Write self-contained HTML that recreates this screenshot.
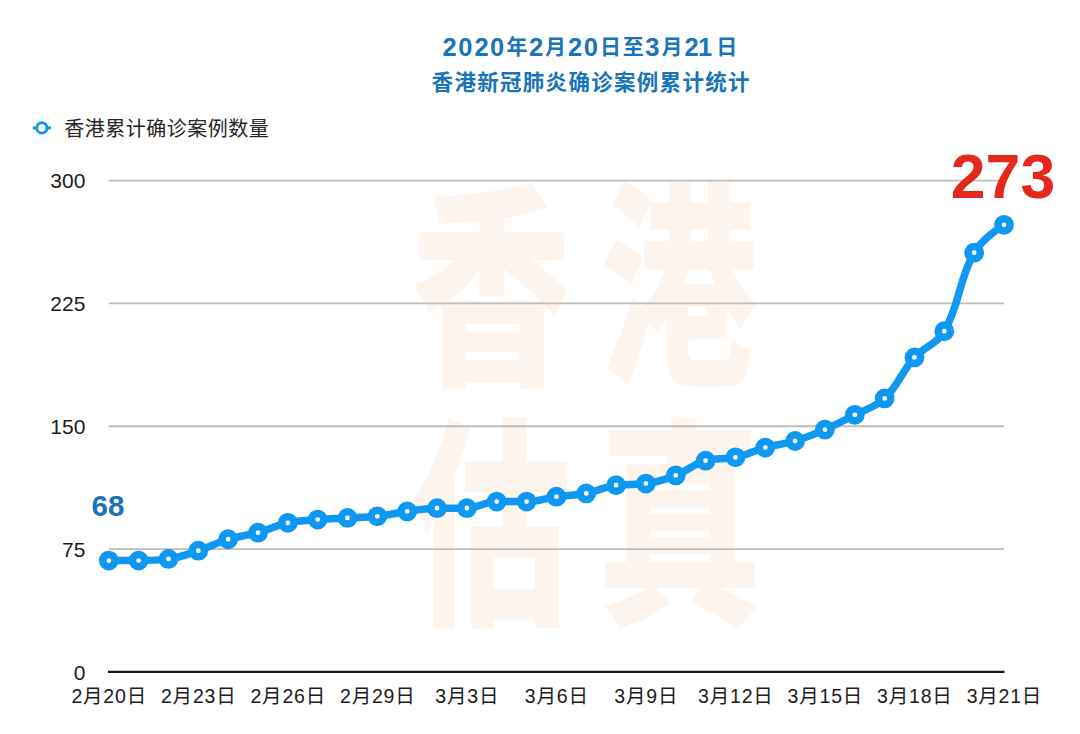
<!DOCTYPE html>
<html><head><meta charset="utf-8">
<style>
html,body{margin:0;padding:0;background:#fff;}
body{width:1080px;height:734px;overflow:hidden;position:relative;}
svg{position:absolute;left:0;top:0;}
</style></head><body>
<svg width="1080" height="734" viewBox="0 0 1080 734">
<rect width="1080" height="734" fill="#fff"/>
<g fill="#fdf4ee" font-family="'Liberation Sans', 'Noto Sans CJK TC', 'Noto Sans CJK SC', sans-serif" font-weight="900" font-size="200">
<text transform="translate(411.60 367.51) scale(0.8010 1.0785)">香</text>
<text transform="translate(600.06 367.40) scale(0.7887 1.0842)">港</text>
<text transform="translate(412.41 606.91) scale(0.7927 1.1099)">估</text>
<text transform="translate(596.48 605.92) scale(0.8361 1.1042)">真</text>
</g>
<g stroke="#bdbdbd" stroke-width="1.8">
<line x1="108.8" x2="1004" y1="549.07" y2="549.07"/>
<line x1="108.8" x2="1004" y1="426.25" y2="426.25"/>
<line x1="108.8" x2="1004" y1="303.43" y2="303.43"/>
<line x1="108.8" x2="1004" y1="180.60" y2="180.60"/>
</g>
<line x1="108" x2="1004.5" y1="671.9" y2="671.9" stroke="#181818" stroke-width="2.1"/>
<g font-family="'Liberation Sans', 'Noto Sans CJK SC', sans-serif" font-size="21" fill="#1c1c1c" text-anchor="end">
<text x="85.4" y="679.50">0</text>
<text x="85.4" y="556.67">75</text>
<text x="85.4" y="433.85">150</text>
<text x="85.4" y="311.03">225</text>
<text x="85.4" y="188.20">300</text>
</g>
<g font-family="'Liberation Sans', 'Noto Sans CJK SC', sans-serif" font-size="19.5" fill="#1c1c1c" text-anchor="middle" letter-spacing="0.8">
<text x="109.20" y="703.3">2月20日</text>
<text x="198.72" y="703.3">2月23日</text>
<text x="288.24" y="703.3">2月26日</text>
<text x="377.76" y="703.3">2月29日</text>
<text x="467.28" y="703.3">3月3日</text>
<text x="556.80" y="703.3">3月6日</text>
<text x="646.32" y="703.3">3月9日</text>
<text x="735.84" y="703.3">3月12日</text>
<text x="825.36" y="703.3">3月15日</text>
<text x="914.88" y="703.3">3月18日</text>
<text x="1004.40" y="703.3">3月21日</text>
</g>
<path d="M108.80,560.54 C108.80,560.54 126.71,560.54 138.64,560.54 C150.58,560.54 156.75,560.54 168.48,558.90 C180.62,557.21 186.58,554.58 198.32,550.71 C210.45,546.72 215.95,542.93 228.16,539.25 C239.83,535.73 246.23,535.93 258.00,532.70 C270.10,529.38 275.63,525.55 287.84,522.87 C299.50,520.31 305.72,520.58 317.68,519.60 C329.59,518.62 335.58,518.61 347.52,517.96 C359.46,517.30 365.49,517.62 377.36,516.32 C389.37,515.00 395.22,513.05 407.20,511.41 C419.09,509.78 425.07,508.13 437.04,508.13 C448.94,508.13 455.08,508.13 466.88,508.13 C478.96,508.13 484.64,501.58 496.72,501.58 C508.52,501.58 514.70,501.58 526.56,501.58 C538.58,501.58 544.42,498.31 556.40,496.67 C568.29,495.04 574.48,495.65 586.24,493.39 C598.36,491.07 603.94,486.90 616.08,485.21 C627.81,483.57 634.19,485.21 645.92,483.57 C658.06,481.87 664.26,479.80 675.76,475.38 C688.13,470.63 693.05,464.27 705.60,460.64 C716.92,457.37 723.78,459.93 735.44,457.37 C747.65,454.69 753.18,450.86 765.28,447.54 C777.05,444.31 783.45,444.51 795.12,440.99 C807.33,437.30 813.26,434.66 824.96,429.53 C837.14,424.18 843.00,420.94 854.80,414.79 C866.87,408.49 875.05,407.62 884.64,398.41 C898.92,384.70 901.10,372.52 914.48,357.47 C924.97,345.67 936.66,344.71 944.32,331.27 C960.53,302.79 958.09,281.32 974.16,252.66 C981.96,238.74 1004.00,224.82 1004.00,224.82" fill="none" stroke="#0f98f2" stroke-width="7.5" stroke-linejoin="round" stroke-linecap="round"/>
<g fill="#fff" stroke="#0f98f2" stroke-width="7.50">
<circle cx="108.80" cy="560.54" r="6.15"/>
<circle cx="138.64" cy="560.54" r="6.15"/>
<circle cx="168.48" cy="558.90" r="6.15"/>
<circle cx="198.32" cy="550.71" r="6.15"/>
<circle cx="228.16" cy="539.25" r="6.15"/>
<circle cx="258.00" cy="532.70" r="6.15"/>
<circle cx="287.84" cy="522.87" r="6.15"/>
<circle cx="317.68" cy="519.60" r="6.15"/>
<circle cx="347.52" cy="517.96" r="6.15"/>
<circle cx="377.36" cy="516.32" r="6.15"/>
<circle cx="407.20" cy="511.41" r="6.15"/>
<circle cx="437.04" cy="508.13" r="6.15"/>
<circle cx="466.88" cy="508.13" r="6.15"/>
<circle cx="496.72" cy="501.58" r="6.15"/>
<circle cx="526.56" cy="501.58" r="6.15"/>
<circle cx="556.40" cy="496.67" r="6.15"/>
<circle cx="586.24" cy="493.39" r="6.15"/>
<circle cx="616.08" cy="485.21" r="6.15"/>
<circle cx="645.92" cy="483.57" r="6.15"/>
<circle cx="675.76" cy="475.38" r="6.15"/>
<circle cx="705.60" cy="460.64" r="6.15"/>
<circle cx="735.44" cy="457.37" r="6.15"/>
<circle cx="765.28" cy="447.54" r="6.15"/>
<circle cx="795.12" cy="440.99" r="6.15"/>
<circle cx="824.96" cy="429.53" r="6.15"/>
<circle cx="854.80" cy="414.79" r="6.15"/>
<circle cx="884.64" cy="398.41" r="6.15"/>
<circle cx="914.48" cy="357.47" r="6.15"/>
<circle cx="944.32" cy="331.27" r="6.15"/>
<circle cx="974.16" cy="252.66" r="6.15"/>
<circle cx="1004.00" cy="224.82" r="6.15"/>
</g>
<g font-family="'Liberation Sans', 'Noto Sans CJK SC', sans-serif" font-weight="bold" fill="#1a74b8">
<text><tspan x="442.5" y="55.8" font-size="25.5">2</tspan><tspan x="458.3" y="55.8" font-size="25.5">0</tspan><tspan x="474.4" y="55.8" font-size="25.5">2</tspan><tspan x="490.0" y="55.8" font-size="25.5">0</tspan><tspan x="506.4" y="53.7" font-size="21">年</tspan><tspan x="529.0" y="55.8" font-size="25.5">2</tspan><tspan x="545.0" y="53.7" font-size="21">月</tspan><tspan x="567.9" y="55.8" font-size="25.5">2</tspan><tspan x="583.8" y="55.8" font-size="25.5">0</tspan><tspan x="600.1" y="53.7" font-size="21">日</tspan><tspan x="622.7" y="53.7" font-size="21">至</tspan><tspan x="645.3" y="55.8" font-size="25.5">3</tspan><tspan x="661.4" y="53.7" font-size="21">月</tspan><tspan x="684.4" y="55.8" font-size="25.5">2</tspan><tspan x="697.9" y="55.8" font-size="25.5">1</tspan><tspan x="716.2" y="53.7" font-size="21">日</tspan></text>
<text x="431.6" y="89.6" font-size="21.5" letter-spacing="1.3">香港新冠肺炎确诊案例累计统计</text>
</g>
<line x1="32.8" x2="51" y1="127.9" y2="127.9" stroke="#0f98f2" stroke-width="3"/>
<circle cx="41.9" cy="127.9" r="5.15" fill="#fff" stroke="#0f98f2" stroke-width="2.9"/>
<text x="64.3" y="136.4" font-family="'Liberation Sans', 'Noto Sans CJK SC', sans-serif" font-size="20" letter-spacing="0.5" fill="#262626">香港累计确诊案例数量</text>
<text x="108" y="516" font-family="'Liberation Sans', sans-serif" font-size="29.5" font-weight="bold" fill="#1a72b8" text-anchor="middle">68</text>
<text x="1003" y="197.5" font-family="'Liberation Sans', sans-serif" font-size="62.5" font-weight="bold" fill="#e5281c" text-anchor="middle">273</text>
</svg>
</body></html>
